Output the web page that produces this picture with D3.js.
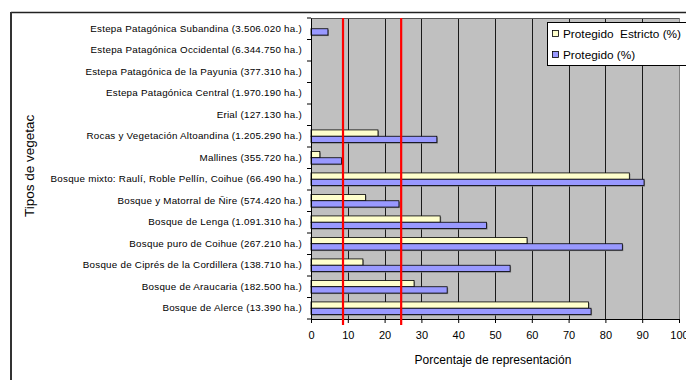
<!DOCTYPE html>
<html><head><meta charset="utf-8">
<script src="https://cdn.jsdelivr.net/npm/d3@7"></script>
<style>
html,body{margin:0;padding:0;background:#fff;}
svg{display:block;font-family:"Liberation Sans",Arial,sans-serif;}
</style></head>
<body>
<script>
const categories = [
  "Estepa Patagónica Subandina (3.506.020 ha.)",
  "Estepa Patagónica Occidental (6.344.750 ha.)",
  "Estepa Patagónica de la Payunia (377.310 ha.)",
  "Estepa Patagónica Central (1.970.190 ha.)",
  "Erial (127.130 ha.)",
  "Rocas y Vegetación Altoandina (1.205.290 ha.)",
  "Mallines (355.720 ha.)",
  "Bosque mixto: Raulí, Roble Pellín, Coihue (66.490 ha.)",
  "Bosque y Matorral de Ñire (574.420 ha.)",
  "Bosque de Lenga (1.091.310 ha.)",
  "Bosque puro de Coihue (267.210 ha.)",
  "Bosque de Ciprés de la Cordillera (138.710 ha.)",
  "Bosque de Araucaria (182.500 ha.)",
  "Bosque de Alerce (13.390 ha.)"
];
const estricto = [0, 0, 0, 0, 0, 18.2, 2.4, 86.5, 14.8, 35.1, 58.7, 14.1, 28.0, 75.4];
const protegido = [4.6, 0, 0, 0, 0, 34.2, 8.3, 90.5, 23.9, 47.7, 84.6, 54.1, 37.0, 76.1];
const seriesNames = ["Protegido  Estricto (%)", "Protegido (%)"];
const seriesColors = ["#FFFFCC", "#9999FF"];
const refLines = [8.7, 24.5];
const xTicks = [0,10,20,30,40,50,60,70,80,90,100];
const xTitle = "Porcentaje de representación";
const yTitle = "Tipos de vegetac";

const W = 686, H = 380;
const m = {left: 311, right: 679, top: 18, bottom: 319};
const svg = d3.select("body").append("svg").attr("width", W).attr("height", H);

// outer frame
svg.append("line").attr("x1", 11).attr("x2", W).attr("y1", 12.5).attr("y2", 12.5)
  .attr("stroke", "#222").attr("stroke-width", 1.5);
svg.append("line").attr("x1", 11).attr("x2", 11).attr("y1", 12).attr("y2", H)
  .attr("stroke", "#333").attr("stroke-width", 2);

const x = d3.scaleLinear().domain([0, 100]).range([m.left, m.right]);
const y = d3.scaleBand().domain(categories).range([m.top, m.bottom]).paddingInner(0).paddingOuter(0);
const inner = d3.scaleBand().domain([0, 1]).range([0, y.bandwidth()]).paddingOuter(0.7).paddingInner(0);

// plot background
svg.append("rect").attr("x", m.left).attr("y", m.top).attr("width", m.right - m.left).attr("height", m.bottom - m.top)
  .attr("fill", "#C0C0C0");

// gridlines
svg.append("g").selectAll("line").data(xTicks.slice(1, -1)).join("line")
  .attr("x1", d => Math.round(x(d)) + 0.5).attr("x2", d => Math.round(x(d)) + 0.5)
  .attr("y1", m.top).attr("y2", m.bottom).attr("stroke", "#1a1a1a").attr("stroke-width", 1);

// plot border top/right
svg.append("line").attr("x1", m.left).attr("x2", m.right).attr("y1", m.top + 0.5).attr("y2", m.top + 0.5).attr("stroke", "#555");
svg.append("line").attr("x1", m.right + 0.5).attr("x2", m.right + 0.5).attr("y1", m.top).attr("y2", m.bottom).attr("stroke", "#808080");

// bars
const data = [estricto, protegido];
data.forEach((vals, si) => {
  const g = svg.append("g");
  const rows = categories.map((c, i) => ({c, v: vals[i]})).filter(d => d.v > 0);
  g.selectAll("rect.sh").data(rows).join("rect").attr("class", "sh")
    .attr("x", x(0) + 1).attr("y", d => y(d.c) + inner(si) + 1)
    .attr("width", d => x(d.v) - x(0)).attr("height", inner.bandwidth())
    .attr("fill", "#7a7a7a");
  g.selectAll("rect.b").data(rows).join("rect").attr("class", "b")
    .attr("x", x(0)).attr("y", d => y(d.c) + inner(si))
    .attr("width", d => x(d.v) - x(0)).attr("height", inner.bandwidth())
    .attr("fill", seriesColors[si]).attr("stroke", "#000").attr("stroke-width", 0.8);
});

// axes
const xAxis = d3.axisBottom(x).tickValues(xTicks).tickSize(4).tickPadding(8).tickFormat(d3.format("d"));
const gx = svg.append("g").attr("transform", `translate(0,${m.bottom})`).call(xAxis);
gx.select(".domain").attr("stroke", "#000");
gx.selectAll(".tick line").attr("stroke", "#000");
gx.selectAll("text").attr("font-size", 11).attr("fill", "#000").attr("font-family", "Liberation Sans, Arial, sans-serif");

const gy = svg.append("g").attr("transform", `translate(${m.left},0)`)
  .call(d3.axisLeft(y).tickSize(0).tickPadding(9));
gy.select(".domain").attr("stroke", "#000");
gy.selectAll("text").attr("font-size", 9.8).attr("letter-spacing", 0.25).attr("fill", "#000")
  .attr("font-family", "Liberation Sans, Arial, sans-serif");
const bounds = categories.map(c => y(c)).concat([m.bottom]);
svg.append("g").selectAll("line").data(bounds).join("line")
  .attr("x1", m.left - 4).attr("x2", m.left).attr("y1", d => d).attr("y2", d => d).attr("stroke", "#000");

// red reference lines
svg.append("g").selectAll("line").data(refLines).join("line")
  .attr("x1", d => x(d)).attr("x2", d => x(d)).attr("y1", m.top).attr("y2", m.bottom + 6)
  .attr("stroke", "#FF0000").attr("stroke-width", 2.2);

// titles
svg.append("text").attr("x", 493).attr("y", 364).attr("text-anchor", "middle")
  .attr("font-size", 12).text(xTitle);
svg.append("text").attr("transform", "translate(34,217) rotate(-90)").attr("text-anchor", "start")
  .attr("font-size", 13.5).text(yTitle);

// legend
const lg = svg.append("g");
lg.append("rect").attr("x", 547.5).attr("y", 22.5).attr("width", 150).attr("height", 43)
  .attr("fill", "#fff").attr("stroke", "#000").attr("stroke-width", 1);
seriesNames.forEach((n, i) => {
  const cy = 34 + i * 21;
  lg.append("rect").attr("x", 552.5).attr("y", cy - 3.5).attr("width", 6).attr("height", 6)
    .attr("fill", seriesColors[i]).attr("stroke", "#000").attr("stroke-width", 0.8);
  lg.append("text").attr("x", 563).attr("y", cy + 4).attr("font-size", 11.8)
    .style("white-space", "pre").text(n);
});
</script>
</body></html>
